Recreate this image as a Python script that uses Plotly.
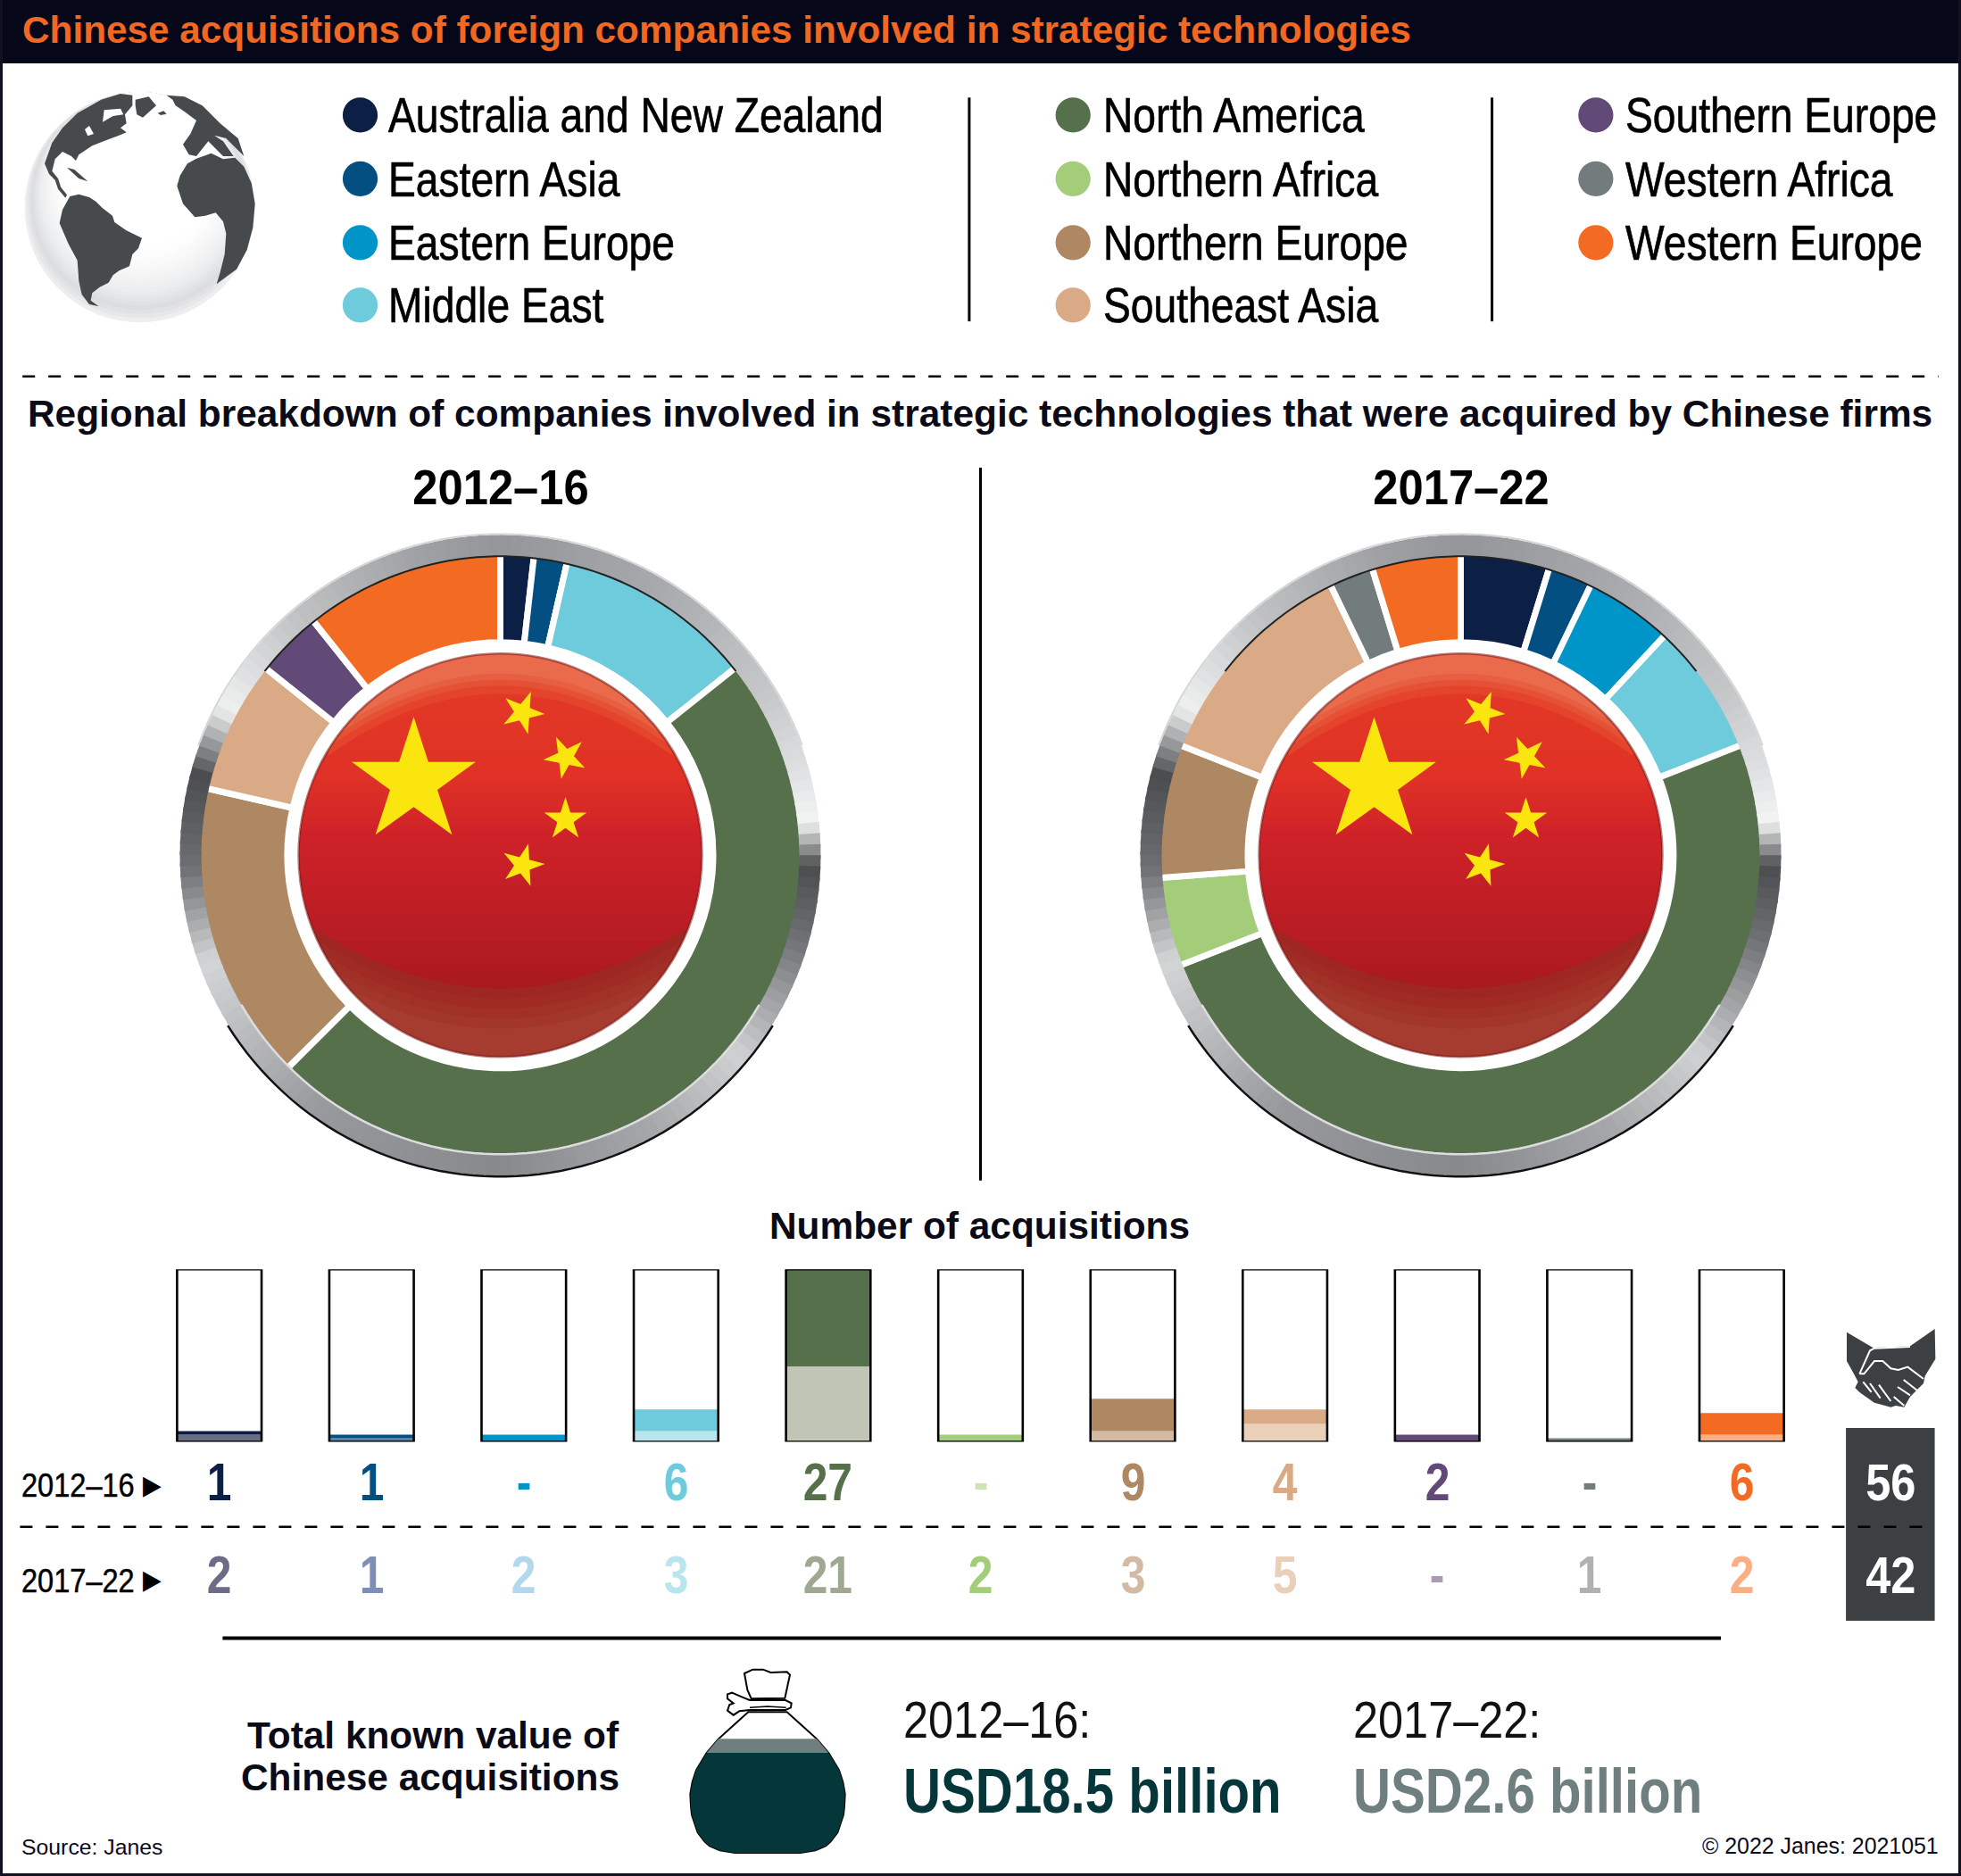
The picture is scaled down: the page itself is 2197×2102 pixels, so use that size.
import json
import numpy as np
import plotly.graph_objects as go

W, H = 2197, 2102
S = W / 1568  # picture was measured at 1568 wide

regions = ["Australia and New Zealand", "Eastern Asia", "Eastern Europe", "Middle East",
           "North America", "Northern Africa", "Northern Europe", "Southeast Asia",
           "Southern Europe", "Western Africa", "Western Europe"]
acq_2012 = [1, 1, 0, 6, 27, 0, 9, 4, 2, 0, 6]
acq_2017 = [2, 1, 2, 3, 21, 2, 3, 5, 0, 1, 2]
frame_top = [48] * 11
totals = ["56", "42"]
periods = ["2012–16", "2017–22"]
usd_labels = ["USD18.5 billion", "USD2.6 billion"]

colors = ["#0c1f45", "#034f82", "#0095c8", "#6dcbdb", "#56704c", "#a3cd78",
          "#ae8763", "#d9aa85", "#614a78", "#727c7c", "#f36a23"]
bar_light = ["#6b6d87", "#5a7fa8", "#0095c8", "#b8e5ee", "#c1c5b5", "#a3cd78",
             "#d3baa3", "#ead0b9", "#a99bb6", "#727c7c", "#fbae82"]
text_light = ["#6b6d87", "#7e8fb3", "#b3d7ec", "#b8e5ee", "#9fa992", "#a3cd78",
              "#d3baa3", "#ead0b9", "#a99bb6", "#b0b2b2", "#fbae82"]
text_dash_2012 = {2: "#0095c8", 5: "#cfe3b5", 9: "#727c7c"}

SANS = "Liberation Sans"
INK = "#0b0b18"


def fx(x):
    return x / W


def fy(y):
    return 1 - y / H


def poly(pts):
    return "M" + "L".join(f"{fx(x):.5f},{fy(y):.5f}" for x, y in pts) + "Z"


def hexrgb(c):
    return np.array([int(c[i:i + 2], 16) for i in (1, 3, 5)], dtype=float)


def ramp(t, stops):
    ts = [s[0] for s in stops]
    rgb = [hexrgb(s[1]) for s in stops]
    vals = [np.interp(t, ts, [c[i] for c in rgb]) for i in range(3)]
    return "rgb(%d,%d,%d)" % tuple(vals)


shapes = []
annots = []
squeeze = {}  # annotation index -> horizontal squeeze and stroke, the condensed face is not installed


def add_poly(pts, fill, layer="above", line=None, lw=0):
    shapes.append(dict(type="path", path=poly(pts), xref="paper", yref="paper", fillcolor=fill,
                       line=dict(color=line or fill, width=lw), layer=layer))


def add_open(pts, color, lw):
    path = "M" + "L".join(f"{fx(x):.5f},{fy(y):.5f}" for x, y in pts)
    shapes.append(dict(type="path", path=path, xref="paper", yref="paper",
                       line=dict(color=color, width=lw), layer="above"))


def arc(cx, cy, r, a0, a1):
    ang = np.radians(np.linspace(a0, a1, 60))
    return list(zip(cx + r * np.sin(ang), cy - r * np.cos(ang)))


def circle(cx, cy, r, fill=None, line=None, lw=0, layer="above"):
    shapes.append(dict(type="circle", xref="paper", yref="paper", x0=fx(cx - r), x1=fx(cx + r),
                       y0=fy(cy + r), y1=fy(cy - r), fillcolor=fill or "rgba(0,0,0,0)",
                       line=dict(color=line or "rgba(0,0,0,0)", width=lw), layer=layer))


def rect(x0, y0, x1, y1, fill, layer="above"):
    shapes.append(dict(type="rect", xref="paper", yref="paper", x0=fx(x0), x1=fx(x1), y0=fy(y1), y1=fy(y0),
                       fillcolor=fill, line=dict(width=0), layer=layer))


def seg(x0, y0, x1, y1, color="black", lw=3, dash=None):
    shapes.append(dict(type="line", xref="paper", yref="paper", x0=fx(x0), x1=fx(x1), y0=fy(y0), y1=fy(y1),
                       line=dict(color=color, width=lw, dash=dash), layer="above"))


def label(x, y, text, size, color="black", anchor="left", sx=None, family=SANS, stroke=0):
    if sx:
        squeeze[len(annots)] = [sx, anchor, stroke]
    annots.append(dict(x=fx(x), y=fy(y), xref="paper", yref="paper", text=text, showarrow=False,
                       xanchor=anchor, yanchor="middle", align=anchor,
                       font=dict(family=family, size=size, color=color)))


def cat_label(name, y, text, color):
    squeeze[len(annots)] = [0.83, "center", 0]
    annots.append(dict(x=name, y=fy(y), xref="x", yref="paper", text=f"<b>{text}</b>", showarrow=False,
                       yanchor="middle", font=dict(family=SANS, size=60, color=color)))


def star(cx, cy, r, rot):
    a = np.radians(rot) + np.arange(10) * np.pi / 5
    rr = np.where(np.arange(10) % 2 == 0, r, r * 0.382)
    return list(zip(cx + rr * np.sin(a), cy - rr * np.cos(a)))


# page frame and header
rect(0, 0, W, 71, "#07071a")
rect(0, 0, 3, H, "#111122")
rect(W - 3, 0, W, H, "#111122")
rect(0, H - 3, W, H, "#111122")
label(23, 33, "<b>Chinese acquisitions of foreign companies involved in strategic technologies</b>", 42.3, "#f26722")

# globe: discs stay tangent at the top so the shade gathers at the foot
gx, gy, gr = 20 + 410 / 3, 95 + 412 / 3, 129
for t in np.linspace(0, 1, 24):
    r = gr * (1 - 0.42 * t)
    circle(gx, gy - gr + r, r, ramp(t, [(0, "#eeeeef"), (0.12, "#dcdddf"), (0.3, "#ecedee"), (0.55, "#f9f9f9"),
                                        (0.75, "#ffffff"), (1, "#ffffff")]))


def gz(pts):
    return [(20 + x / 3, 95 + y / 3) for x, y in pts]


for pts in [
    [(175, 375), (205, 368), (240, 378), (262, 392), (285, 415), (318, 440), (325, 462), (365, 490), (417, 515),
     (405, 550), (385, 570), (375, 610), (340, 625), (320, 640), (305, 665), (275, 680), (250, 700), (245, 725),
     (272, 745), (240, 738), (215, 705), (205, 660), (200, 590), (170, 535), (140, 465), (150, 420)],
    [(570, 265), (600, 248), (650, 230), (690, 250), (730, 245), (760, 275), (785, 330), (797, 400), (790, 480),
     (770, 555), (735, 620), (668, 670), (680, 630), (695, 570), (700, 500), (690, 460), (665, 430), (630, 440),
     (595, 445), (555, 400), (535, 340), (545, 305)],
    [(345, 30), (280, 50), (200, 95), (150, 145), (115, 195), (90, 265), (105, 300), (125, 320), (135, 350),
     (160, 380), (165, 370), (145, 345), (135, 315), (115, 290), (125, 250), (150, 225), (180, 240), (195, 255),
     (205, 235), (250, 205), (300, 185), (340, 170), (365, 160), (345, 145), (365, 130), (360, 100), (385, 70),
     (385, 35)],
    [(395, 50), (440, 40), (465, 70), (420, 110), (400, 100), (395, 70)],
    [(530, 70), (560, 90), (600, 120), (580, 165), (555, 200), (575, 235), (600, 240), (640, 190), (690, 240),
     (725, 240), (690, 190), (660, 170), (700, 180), (760, 240), (740, 180), (680, 130), (620, 70), (560, 40),
     (500, 35), (520, 50)],
    [(470, 95), (490, 88), (500, 98), (480, 102)],
    [(165, 278), (190, 285), (235, 325), (205, 315)],
]:
    add_poly(gz(pts), "#474a4c")
for pts in [[(285, 125), (290, 85), (345, 80), (355, 100), (320, 105)],
            [(225, 150), (240, 138), (255, 165), (235, 172)]]:
    add_poly(gz(pts), "white")

# legend
leg_x = [(288, 309), (858, 881), (1276, 1298)]
leg_y = [92, 143, 194, 244]
for i, name in enumerate(regions):
    col = 0 if i < 4 else 1 if i < 8 else 2
    row = i if i < 4 else i - 4 if i < 8 else i - 8
    circle(leg_x[col][0] * S, leg_y[row] * S, 14 * S, colors[i])
    label(leg_x[col][1] * S, leg_y[row] * S, name, 56, sx=0.825, stroke=0.7)
seg(775 * S, 78 * S, 775 * S, 257 * S, lw=3)
seg(1193 * S, 78 * S, 1193 * S, 257 * S, lw=3)
seg(18 * S, 301 * S, 1550 * S, 301 * S, lw=2.5, dash="14px,15px")
label(W / 2 - 1, 331 * S,
      "<b>Regional breakdown of companies involved in strategic technologies that were acquired by Chinese firms</b>",
      42.4, INK, "center")
seg(784 * S, 374 * S, 784 * S, 944 * S, lw=3)

# rings and flags above the two pies
RING = [(0, "#95969a"), (30, "#a8a9ac"), (60, "#c8c9cb"), (72, "#dcdddf"), (84, "#f3f4f4"), (92, "#4c4d4f"),
        (105, "#6e6f72"), (130, "#d0d1d3"), (150, "#a8a9ac"), (180, "#88898c"), (215, "#98999c"), (250, "#d5d6d8"),
        (268, "#6d6e71"), (285, "#4c4d4f"), (298, "#f0f1f1"), (320, "#c0c1c3"), (345, "#a0a1a4"), (360, "#95969a")]
centers = [(560.5, 958.3), (1636.5, 958.3)]
R_OUT, R_IN, R_PIE, R_HOLE, R_FLAG = 359, 335, 340, 238.5, 226
FLAG = [(0, "#e43b27"), (0.3, "#e03226"), (0.45, "#cf2229"), (0.7, "#b71d23"), (0.85, "#a6191e"), (1, "#a6191e")]
small_stars = [(25, -160, 22), (73, -110, -25), (73, -40, 0), (25, 11, 15)]

for cx, cy in centers:
    for a0 in range(0, 360, 2):
        ang = np.radians(np.array([a0, a0 + 2.6]))
        pts = [(cx + R_OUT * np.sin(a), cy - R_OUT * np.cos(a)) for a in ang]
        pts += [(cx + R_IN * np.sin(a), cy - R_IN * np.cos(a)) for a in ang[::-1]]
        add_poly(pts, ramp(a0 + 1, RING))
    add_open(arc(cx, cy, R_OUT + 1, 122, 238), "#111111", 2.5)
    add_open(arc(cx, cy, R_OUT + 1, -70, 70), "#d5d6d8", 2)
    add_open(arc(cx, cy, R_IN, -52, 52), "#222222", 2)
    add_open(arc(cx, cy, R_IN, 120, 240), "#dddddf", 2.5)
    # flag disc painted in horizontal bands
    n = 90
    for i in range(n):
        y0 = -R_FLAG + 2 * R_FLAG * i / n
        y1 = min(y0 + 2 * R_FLAG / n + 1.5, R_FLAG)
        ys = np.linspace(y0, y1, 3)
        xs = np.sqrt(np.maximum(R_FLAG ** 2 - ys ** 2, 0))
        pts = [(cx + a, cy + b) for a, b in zip(xs, ys)] + [(cx - a, cy + b) for a, b in zip(xs[::-1], ys[::-1])]
        add_poly(pts, ramp(i / n, FLAG))
    # highlight crescent at the head of the flag
    for lim, col in [(0.80, "#e5442c"), (0.84, "#e65035"), (0.87, "#e75f41"), (0.90, "#e96b4c")]:
        xs = np.linspace(-1, 1, 61) * R_FLAG * 0.985
        low = R_FLAG * (-lim) + 0.42 * xs ** 2 / R_FLAG
        top = -np.sqrt(R_FLAG ** 2 - xs ** 2)
        keep = low > top
        pts = [(cx + a, cy + b) for a, b in zip(xs[keep], low[keep])]
        pts += [(cx + a, cy + b) for a, b in zip(xs[keep][::-1], top[keep][::-1])]
        add_poly(pts, col)
    # glossy crescent at the foot of the flag
    for dy, col in [(0, "#9f2721"), (0.05, "#a02b24"), (0.1, "#a13027"), (0.15, "#a3362b"), (0.2, "#a53c2f")]:
        xs = np.linspace(-1, 1, 61) * R_FLAG * 0.985
        top = R_FLAG * (0.66 + dy) - 0.35 * xs ** 2 / R_FLAG
        bottom = np.sqrt(R_FLAG ** 2 - xs ** 2)
        keep = top < bottom
        pts = [(cx + a, cy + b) for a, b in zip(xs[keep], top[keep])]
        pts += [(cx + a, cy + b) for a, b in zip(xs[keep][::-1], bottom[keep][::-1])]
        add_poly(pts, col)
    circle(cx, cy, R_FLAG + 6, None, "white", 12)
    circle(cx, cy, R_FLAG, None, "rgba(120,20,20,0.55)", 2.5)
    add_poly(star(cx - 97, cy - 82, 73, 0), "#fae60e")
    for dx, dy, rot in small_stars:
        add_poly(star(cx + dx, cy + dy, 25, rot), "#fae60e")

for (cx, _), p in zip(centers, periods):
    label(cx, 389 * S, f"<b>{p}</b>", 56, "black", "center", 0.906)

# number rows
label(783 * S, 980 * S, "<b>Number of acquisitions</b>", 42.4, INK, "center")
seg(16 * S, 1221 * S, 1547 * S, 1221 * S, lw=2.5, dash="14px,15px")
rect(1476 * S, 1142 * S, 1547 * S, 1296 * S, "#3c4043", layer="below")
for y, p, t in zip([1188, 1264], periods, totals):
    label(15.5 * S, y * S, p, 37, sx=0.88, stroke=0.5)
    label(113 * S, (y - 1) * S, "▶", 30, "black", family="DejaVu Sans", sx=0.9)
    label(1512 * S, (y - 3 if y == 1188 else y - 5) * S, f"<b>{t}</b>", 58, "white", "center", 0.87)
for i, name in enumerate(regions):
    cat_label(name, 1185 * S, str(acq_2012[i]) if acq_2012[i] else "-", text_dash_2012.get(i, colors[i]))
    cat_label(name, 1259 * S, str(acq_2017[i]) if acq_2017[i] else "-", text_light[i])


# handshake
def hz(pts):
    return [(2050 + x / 3, 1480 + y / 3) for x, y in pts]


add_poly(hz([(57, 38), (145, 90), (270, 85), (353, 27), (355, 128), (320, 185), (315, 210), (270, 255), (250, 290),
             (222, 285), (205, 290), (150, 275), (100, 240), (85, 225), (95, 205), (82, 180), (57, 135)]), "#3c4043")
add_open(hz([(100, 178), (115, 178), (150, 135), (178, 135), (205, 160), (230, 165), (262, 155), (315, 195)]), "white", 2)
add_open(hz([(100, 178), (135, 100), (150, 92), (270, 87)]), "white", 2)
for a, b in [((248, 198), (295, 235)), ((228, 222), (270, 250)), ((215, 255), (250, 285)), ((112, 205), (140, 240)),
             ((135, 210), (170, 260)), ((165, 215), (205, 270))]:
    add_open(hz([a, b]), "white", 2)

# lower panel
seg(178 * S, 1310 * S, 1376 * S, 1310 * S, lw=4)
label(496.5 * S, 1388 * S, "<b>Total known value of</b>", 42.4, INK, "right")
label(496.5 * S, 1421 * S, "<b>Chinese acquisitions</b>", 42.4, INK, "right")
for x, p, usd, col in zip([720.5, 1080.5], periods, usd_labels, ["#05363a", "#6f7f80"]):
    label(x * S, 1375 * S, p + ":", 57, "#111111", sx=0.885)
    label(x * S, 1432 * S, f"<b>{usd}</b>", 71, col, sx=0.82)


# money bag, crop coordinates
def bz(pts):
    return [(760 + x / 3, 1860 + y / 3) for x, y in pts]


bag_y = np.array([175, 215, 265, 312, 370, 410, 450, 490, 520, 580, 610, 625, 640, 648])
bag_w = np.array([65, 110, 165, 205, 240, 253, 260, 258, 255, 235, 212, 195, 160, 110])


def bag_band(y0, y1):
    ys = np.concatenate(([y0], bag_y[(bag_y > y0) & (bag_y < y1)], [y1]))
    ws = np.interp(ys, bag_y, bag_w)
    return bz([(300 + w, y) for w, y in zip(ws, ys)] + [(300 - w, y) for w, y in zip(ws[::-1], ys[::-1])])


add_poly(bag_band(175, 648), "white", line="black", lw=2)
add_poly(bag_band(265, 312), "#6f7f80")
add_poly(bag_band(312, 648), "#05363a")
add_poly(bz([(222, 45), (250, 32), (285, 32), (310, 42), (365, 40), (375, 50), (358, 128), (245, 130), (232, 100)]),
         "white", line="black", lw=2)
add_poly(bz([(165, 115), (180, 110), (215, 125), (240, 135), (360, 135), (380, 145), (378, 160), (360, 168), (240, 168),
             (205, 172), (185, 185), (165, 170), (172, 150), (185, 145), (165, 130)]), "white", line="black", lw=2)
add_open(bz([(240, 160), (300, 156), (362, 160)]), "black", 1.5)

label(16 * S, 1477 * S, "Source: Janes", 24.8, INK)
label(1551.5 * S, 1476 * S, "© 2022 Janes: 2021051", 24.9, INK, "right")

fig = go.Figure()
for (cx, cy), vals, p in zip(centers, [acq_2012, acq_2017], periods):
    fig.add_trace(go.Pie(
        labels=regions, values=vals, name=p, sort=False, direction="clockwise", rotation=0,
        hole=R_HOLE / R_PIE, textinfo="none", showlegend=False, automargin=False,
        marker=dict(colors=colors, line=dict(color="white", width=7)),
        domain=dict(x=[fx(cx - R_PIE), fx(cx + R_PIE)], y=[fy(cy + R_PIE), fy(cy - R_PIE)]),
    ))

# stacked bars: later period at the foot, earlier period on top, inside a fixed frame
fig.add_trace(go.Bar(x=regions, y=acq_2017, name=periods[1], marker=dict(color=bar_light, line=dict(width=0))))
fig.add_trace(go.Bar(x=regions, y=acq_2012, base=acq_2017, name=periods[0],
                     marker=dict(color=colors, line=dict(width=0))))
fig.add_trace(go.Bar(x=regions, y=frame_top, name="frame",
                     marker=dict(color="rgba(0,0,0,0)", line=dict(color="black", width=2.6))))

fig.update_layout(
    width=W, height=H, margin=dict(l=0, r=0, t=0, b=0, autoexpand=False),
    paper_bgcolor="white", plot_bgcolor="rgba(0,0,0,0)",
    barmode="overlay", bargap=0.445, showlegend=False,
    xaxis=dict(domain=[114.5 / 1568, 1453.5 / 1568], visible=False, type="category", fixedrange=True),
    yaxis=dict(domain=[1 - 1153 / (H / S), 1 - 1015 / (H / S)], visible=False, range=[0, 48], fixedrange=True),
    shapes=shapes, annotations=annots,
)

post = """
document.body.style.margin = '0';
var squeeze = %s;
function squeezeText() {
  document.querySelectorAll('g.annotation').forEach(function (g) {
    var s = squeeze[g.getAttribute('data-index')];
    if (!s) return;
    var t = g.querySelector('text');
    t.style.transformBox = 'fill-box';
    t.style.transformOrigin = s[1] + ' center';
    t.style.transform = 'scaleX(' + s[0] + ')';
    if (s[2]) { t.style.stroke = 'black'; t.style.strokeWidth = s[2] + 'px'; }
  });
}
[0, 100, 400].forEach(function (d) { setTimeout(squeezeText, d); });
""" % json.dumps(squeeze)

fig.write_html("out.html", post_script=post, config={"displayModeBar": False})
